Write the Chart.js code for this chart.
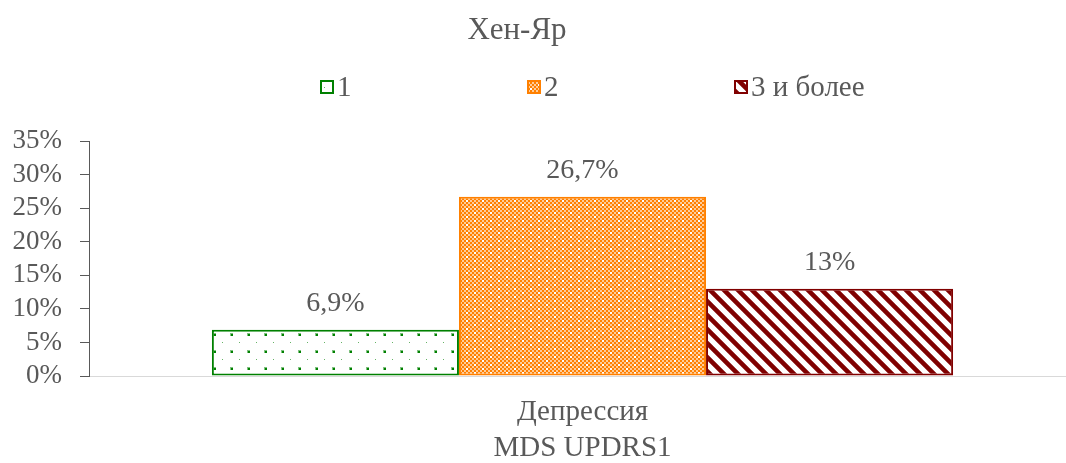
<!DOCTYPE html>
<html>
<head>
<meta charset="utf-8">
<script src="https://cdn.jsdelivr.net/npm/chart.js@4"></script>
<style>
  html, body { margin: 0; padding: 0; background: #ffffff; overflow: hidden; }
  #wrap { width: 1066px; height: 463px; overflow: hidden; }
</style>
</head>
<body>
<div id="wrap"><canvas id="c" width="1080" height="463"></canvas></div>
<script>
// Chart data
const chartTitle = 'Хен-Яр';
const categories = ['Депрессия'];
const axisTitle = 'MDS UPDRS1';
const seriesNames = ['1', '2', '3 и более'];
const seriesValues = [[6.9], [26.7], [13]];
const yTicks = [0, 5, 10, 15, 20, 25, 30, 35];

const FONT = '"Liberation Serif", "Times New Roman", serif';
const TEXT = '#595959';

// --- fill patterns -------------------------------------------------------
function tile(w, h, draw) {
  const c = document.createElement('canvas');
  c.width = w; c.height = h;
  const g = c.getContext('2d');
  draw(g);
  return g.createPattern(c, 'repeat');
}

// sparse green dots
const dotPattern = tile(17, 17, g => {
  g.fillStyle = '#ffffff'; g.fillRect(0, 0, 17, 17);
  g.fillStyle = '#7fc07f'; g.fillRect(9, 10, 3, 3);
  g.fillStyle = '#008000'; g.fillRect(10, 11, 2, 2);
  g.fillStyle = '#66b366'; g.fillRect(1, 2, 1, 1);
});

// fine orange checker with white flecks
const checkPattern = tile(16, 8, g => {
  for (let y = 0; y < 8; y += 2) {
    for (let x = 0; x < 16; x += 2) {
      g.fillStyle = ((x + y) / 2) % 2 === 0 ? '#ff8000' : '#ffcc99';
      g.fillRect(x, y, 2, 2);
    }
  }
  g.fillStyle = '#ffffff';
  g.fillRect(2, 0, 2, 2);
  g.fillRect(10, 4, 2, 2);
});

// dark red downward diagonal stripes
const stripePattern = tile(14, 14, g => {
  g.fillStyle = '#ffffff'; g.fillRect(0, 0, 14, 14);
  g.strokeStyle = '#800000';
  g.lineWidth = 4.6;
  g.beginPath();
  for (const o of [-14, 0, 14]) {
    g.moveTo(o - 2, -2);
    g.lineTo(o + 16, 16);
  }
  g.stroke();
});

const fills = [dotPattern, checkPattern, stripePattern];
const borders = ['#008000', '#ff8000', '#800000'];

// --- plugins ---------------------------------------------------------------
const headerPlugin = {
  id: 'header',
  afterDraw(chart) {
    const ctx = chart.ctx;
    ctx.save();
    ctx.fillStyle = TEXT;
    ctx.textBaseline = 'middle';
    ctx.textAlign = 'center';
    ctx.font = '31px ' + FONT;
    ctx.fillText(chartTitle, 517, 31);

    // legend row
    const legendX = [320, 527, 734];
    ctx.font = '29px ' + FONT;
    ctx.textAlign = 'left';
    chart.data.datasets.forEach((ds, i) => {
      const x = legendX[i], y = 80, s = 14;
      ctx.fillStyle = ds.backgroundColor;
      ctx.fillRect(x, y, s, s);
      ctx.strokeStyle = ds.borderColor;
      ctx.lineWidth = 2;
      ctx.strokeRect(x + 1, y + 1, s - 2, s - 2);
      ctx.fillStyle = TEXT;
      ctx.fillText(ds.label, x + s + 3, y + s / 2 + 1);
    });
    ctx.restore();
  }
};

const valueLabels = {
  id: 'valueLabels',
  afterDatasetsDraw(chart) {
    const ctx = chart.ctx;
    ctx.save();
    ctx.fillStyle = TEXT;
    ctx.font = '28px ' + FONT;
    ctx.textAlign = 'center';
    ctx.textBaseline = 'middle';
    chart.data.datasets.forEach((ds, i) => {
      chart.getDatasetMeta(i).data.forEach((bar, j) => {
        const v = ds.data[j];
        ctx.fillText(String(v).replace('.', ',') + '%', bar.x, bar.y - 26);
      });
    });
    ctx.restore();
  }
};

// --- chart ---------------------------------------------------------------
new Chart(document.getElementById('c'), {
  type: 'bar',
  data: {
    labels: categories,
    datasets: seriesNames.map((name, i) => ({
      label: name,
      data: seriesValues[i],
      backgroundColor: fills[i],
      borderColor: borders[i],
      borderWidth: 2,
      borderSkipped: false,
      categoryPercentage: 0.751,
      barPercentage: 1
    }))
  },
  options: {
    responsive: false,
    animation: false,
    events: [],
    layout: { padding: { top: 141, right: 4, left: 0, bottom: 0 } },
    plugins: {
      legend: { display: false },
      title: { display: false },
      tooltip: { enabled: false }
    },
    scales: {
      x: {
        grid: { display: false },
        border: { display: true, color: '#d9d9d9', width: 1 },
        ticks: { color: TEXT, font: { family: FONT, size: 29 }, padding: 11 },
        title: {
          display: true, text: axisTitle, color: TEXT,
          font: { family: FONT, size: 29 }, padding: { top: 0, bottom: -3 }
        },
        afterFit(scale) { scale.height = 87; }
      },
      y: {
        min: 0, max: 35,
        afterBuildTicks(scale) { scale.ticks = yTicks.map(v => ({ value: v })); },
        grid: { drawOnChartArea: false, drawTicks: true, tickLength: 9, color: TEXT },
        border: { display: true, color: TEXT, width: 1 },
        ticks: {
          color: TEXT, font: { family: FONT, size: 27 }, padding: 18,
          autoSkip: false,
          callback: v => v + '%'
        },
        afterFit(scale) { scale.width = 89; }
      }
    }
  },
  plugins: [headerPlugin, valueLabels]
});
</script>
</body>
</html>
